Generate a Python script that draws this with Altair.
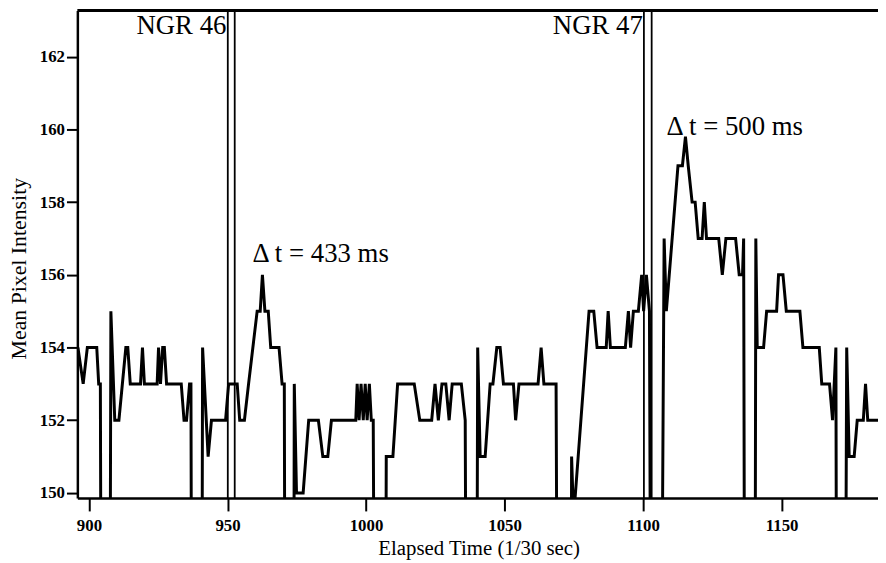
import altair as alt
import pandas as pd

# Polyline vertices (x: frame, y: mean pixel intensity)
xs = [896.0, 897.9, 899.4, 902.8, 903.5, 904.1, 904.6, 907.4, 907.9, 909.3, 910.8, 913.3, 914.0, 914.9,
      918.6, 919.3, 920.0, 924.6, 925.1, 925.8, 926.6, 927.2, 928.0, 933.3, 934.3, 935.2, 936.3, 936.8,
      937.2, 940.6, 941.0, 943.0, 944.2, 949.3, 950.4, 953.5, 954.4, 956.1, 957.6, 960.7, 961.8, 962.6,
      963.5, 964.7, 965.6, 968.6, 969.7, 970.5, 970.9, 973.8, 974.1, 974.9, 977.3, 979.3, 982.8, 984.4,
      986.2, 987.5, 996.3, 996.8, 997.5, 998.2, 999.0, 999.7, 1000.4, 1001.2, 1001.9, 1002.6, 1003.3,
      1006.9, 1007.3, 1009.7, 1011.4, 1017.4, 1019.4, 1023.7, 1024.9, 1026.1, 1027.4, 1028.8, 1030.0,
      1031.1, 1034.4, 1035.8, 1036.4, 1039.8, 1040.3, 1041.2, 1043.0, 1044.8, 1045.8, 1047.2, 1048.4,
      1049.6, 1053.2, 1054.0, 1055.2, 1062.1, 1063.2, 1064.2, 1068.6, 1069.3, 1073.9, 1074.2, 1074.7,
      1075.4, 1080.5, 1082.2, 1083.4, 1086.7, 1087.4, 1088.2, 1093.6, 1094.7, 1095.5, 1096.5, 1098.3,
      1099.5, 1100.2, 1101.2, 1102.3, 1103.0, 1106.3, 1107.6, 1108.4, 1112.6, 1114.2, 1115.3, 1116.3,
      1117.7, 1118.8, 1119.9, 1121.3, 1122.1, 1122.9, 1127.3, 1128.6, 1129.9, 1133.4, 1134.7, 1135.9,
      1136.3, 1136.8, 1140.3, 1140.7, 1141.2, 1143.5, 1144.6, 1148.2, 1148.9, 1150.5, 1151.7, 1156.6,
      1157.7, 1163.6, 1164.5, 1167.3, 1168.4, 1169.6, 1170.0, 1172.8, 1173.5, 1174.4, 1176.2, 1177.3,
      1179.5, 1180.3, 1181.1, 1185.0]
ys = [154, 153, 154, 154, 153, 153, 140, 140, 155, 152, 152, 154, 154, 153,
      153, 154, 153, 153, 154, 153, 154, 154, 153, 153, 152, 152, 153, 153,
      140, 140, 154, 151, 152, 152, 153, 153, 152, 152, 153, 155, 155, 156,
      155, 155, 154, 154, 153, 153, 140, 140, 153, 150, 150, 152, 152, 151,
      151, 152, 152, 153, 152, 153, 152, 153, 152, 153, 152, 152, 140,
      140, 151, 151, 153, 153, 152, 152, 153, 152, 153, 153, 152,
      153, 153, 152, 140, 140, 154, 151, 151, 153, 153, 154, 154,
      153, 153, 152, 153, 153, 154, 153, 153, 140, 140, 151, 149.8,
      149.8, 155, 155, 154, 154, 155, 154, 154, 155, 154, 155, 155,
      156, 155, 156, 155, 140, 140, 157, 155, 159, 159, 159.8, 159,
      158, 158, 157, 157, 158, 157, 157, 156, 157, 157, 156, 156,
      157, 140, 140, 157, 154, 154, 155, 155, 156, 156, 155, 155,
      154, 154, 153, 153, 152, 154, 140, 140, 154, 151, 151, 152,
      152, 153, 152, 152]

stim_x = [950.1, 952.6, 1100.3, 1103.1]

ngr_labels = ["NGR 46", "NGR 47"]
ngr_x = [949.6, 1099.9]
ngr_y = [162.62, 162.62]

dt_labels = ["\u0394 t = 433 ms", "\u0394 t = 500 ms"]
dt_x = [959.0, 1108.5]
dt_y = [156.35, 159.85]

x_ticks = [900, 950, 1000, 1050, 1100, 1150]
y_ticks = [150, 152, 154, 156, 158, 160, 162]

X_DOM = [895.8, 1184.8]
Y_DOM = [149.86, 163.27]
FONT = "Liberation Serif"

df = pd.DataFrame({"t": xs, "v": ys, "i": list(range(len(xs)))})
xsc = alt.Scale(domain=X_DOM, nice=False, zero=False)
ysc = alt.Scale(domain=Y_DOM, nice=False, zero=False)

line = alt.Chart(df).mark_line(color="black", strokeWidth=3, clip=True).encode(
    x=alt.X("t:Q", scale=xsc,
            axis=alt.Axis(values=x_ticks, format="d", title="Elapsed Time (1/30 sec)", grid=False,
                          domainColor="black", domainWidth=2.5, tickColor="black", tickWidth=2,
                          tickSize=13, labelFont=FONT, labelFontSize=17, labelFontWeight="bold",
                          labelColor="black",
                          labelPadding=7, titleFont=FONT, titleFontSize=21, titleFontWeight="normal",
                          titleColor="black", titleX=405, titleY=57, titleBaseline="alphabetic",
                          titleAlign="center")),
    y=alt.Y("v:Q", scale=ysc,
            axis=alt.Axis(values=y_ticks, format="d", title="Mean Pixel Intensity", grid=False,
                          domainColor="black", domainWidth=2.5, tickColor="black", tickWidth=2,
                          tickSize=11, labelFont=FONT, labelFontSize=17, labelFontWeight="bold",
                          labelColor="black",
                          labelPadding=2, titleFont=FONT, titleFontSize=22, titleFontWeight="normal",
                          titleColor="black", titleX=-52, titleY=260, titleBaseline="alphabetic",
                          titleAlign="center", titleAngle=270)),
    order="i:Q",
)

rules = alt.Chart(pd.DataFrame({"s": stim_x})).mark_rule(color="black", strokeWidth=1.8).encode(
    x=alt.X("s:Q", scale=xsc)
)

ngr = alt.Chart(pd.DataFrame({"x": ngr_x, "y": ngr_y, "l": ngr_labels})).mark_text(
    font=FONT, fontSize=27, align="right", baseline="alphabetic", color="black"
).encode(x=alt.X("x:Q", scale=xsc), y=alt.Y("y:Q", scale=ysc), text="l:N")

dt = alt.Chart(pd.DataFrame({"x": dt_x, "y": dt_y, "l": dt_labels})).mark_text(
    font=FONT, fontSize=27, align="left", baseline="alphabetic", color="black"
).encode(x=alt.X("x:Q", scale=xsc), y=alt.Y("y:Q", scale=ysc), text="l:N")

top = alt.Chart(pd.DataFrame({"a": [0]})).mark_rule(color="black", strokeWidth=3).encode(
    x=alt.value(0), x2=alt.value(808), y=alt.value(0)
)

chart = alt.layer(line, rules, ngr, dt, top).properties(
    width=808, height=492,
    autosize=alt.AutoSizeParams(type="none"),
    padding={"left": 70, "top": 0, "right": 0, "bottom": 63},
    background="white",
).configure_view(stroke=None)

chart.save("out.html", embed_options={"renderer": "svg", "actions": False})
